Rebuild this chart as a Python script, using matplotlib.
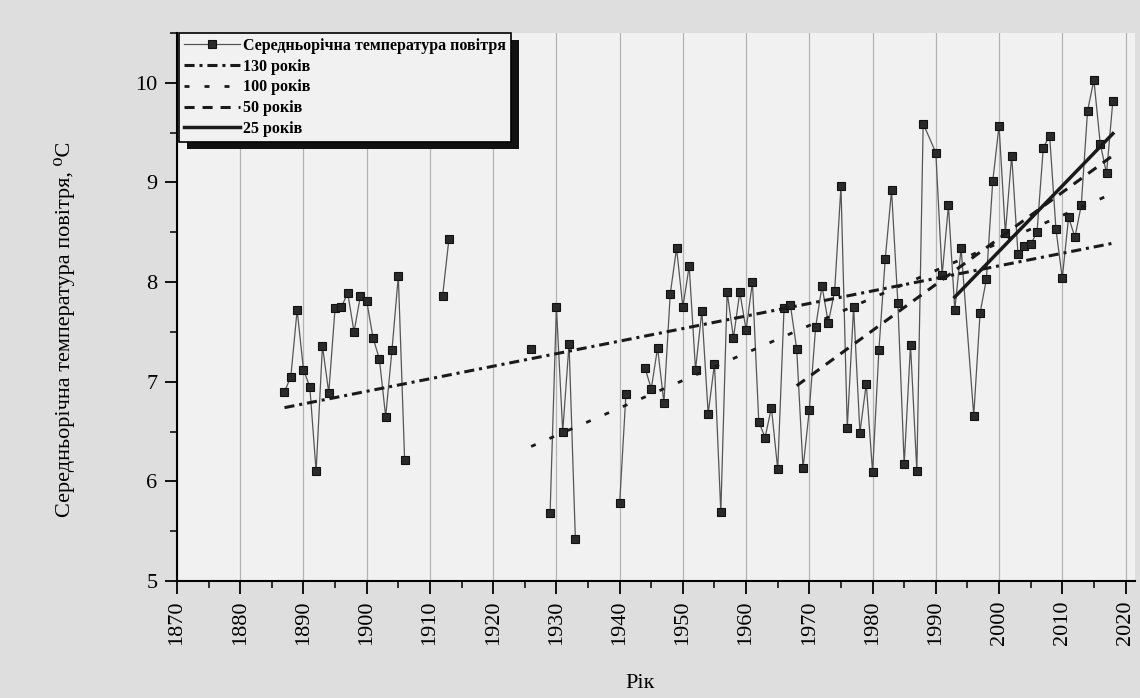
import matplotlib
matplotlib.use("Agg")
import matplotlib.pyplot as plt
from matplotlib.patches import Rectangle
from matplotlib.transforms import IdentityTransform
from matplotlib.ticker import MultipleLocator
import numpy as np

# Середньорічна температура повітря
years = (list(range(1887, 1907)) + [1912, 1913] + [1926] + list(range(1929, 1934))
         + [1940, 1941] + list(range(1944, 1989)) + list(range(1990, 1995))
         + list(range(1996, 2019)))
temps = [6.90, 7.05, 7.72, 7.12, 6.95, 6.10, 7.36, 6.89, 7.74, 7.75,
         7.89, 7.50, 7.86, 7.81, 7.44, 7.23, 6.65, 7.32, 8.06, 6.21,
         7.86, 8.43,
         7.33,
         5.68, 7.75, 6.50, 7.38, 5.42,
         5.78, 6.88,
         7.14, 6.93, 7.34, 6.79, 7.88, 8.34, 7.75, 8.16, 7.12, 7.71,
         6.68, 7.18, 5.69, 7.90, 7.44, 7.90, 7.52, 8.00, 6.60, 6.44,
         6.74, 6.12, 7.74, 7.77, 7.33, 6.13, 6.72, 7.55, 7.96, 7.59,
         7.91, 8.96, 6.54, 7.75, 6.49, 6.98, 6.09, 7.32, 8.23, 8.92,
         7.79, 6.17, 7.37, 6.10, 9.59,
         9.30, 8.07, 8.77, 7.72, 8.34,
         6.66, 7.69, 8.03, 9.01, 9.57, 8.49, 9.27, 8.28, 8.36, 8.38,
         8.50, 9.35, 9.47, 8.53, 8.04, 8.65, 8.45, 8.77, 9.72, 10.03,
         9.39, 9.09, 9.82]
# роки, після яких у ряді немає даних (лінія переривається)
breaks_after = [1906, 1913, 1926, 1933, 1941]

# лінійні тренди: початок / кінець
trend_labels = ["130 років", "100 років", "50 років", "25 років"]
trend_start = [1887, 1926, 1968, 1993]
trend_end = [2018, 2018, 2018, 2018]
trend_v0 = [6.74, 6.35, 6.96, 7.85]
trend_v1 = [8.39, 8.89, 9.27, 9.49]

plt.rcParams['font.family'] = ['Liberation Serif', 'DejaVu Serif']

fig = plt.figure(figsize=(11.4, 6.98), dpi=100, facecolor='#dedede')
ax = fig.add_axes([177/1140, 1 - 581/698, 958/1140, 548/698])
ax.set_facecolor('#f1f1f1')

# ряд з розривами
xs, ys = [], []
for yr, t in zip(years, temps):
    xs.append(yr)
    ys.append(t)
    if yr in breaks_after:
        xs.append(np.nan)
        ys.append(np.nan)

ax.plot(xs, ys, color='#555555', lw=0.9, marker='s', ms=6,
        mfc='#2a2a2a', mec='#111111', mew=0.8,
        label="Середньорічна температура повітря", zorder=3)

styles = [
    dict(dashes=(3.3, 1.6, 1, 1.6), lw=2.2),
    dict(dashes=(1.8, 5.4), lw=2.0),
    dict(dashes=(3.3, 2.6), lw=2.2),
    dict(lw=2.5),
]
for lab, x0, x1, v0, v1, st in zip(trend_labels, trend_start, trend_end, trend_v0, trend_v1, styles):
    ax.plot([x0, x1], [v0, v1], color='#1a1a1a', label=lab, zorder=4, **st)

ax.set_xlim(1870, 2021.5)
ax.set_ylim(5, 10.5)
ax.xaxis.set_minor_locator(MultipleLocator(5))
ax.yaxis.set_major_locator(MultipleLocator(1))
ax.yaxis.set_minor_locator(MultipleLocator(0.5))
ax.set_xticks(range(1870, 2021, 10))
ax.tick_params(axis='both', which='major', direction='out', length=9, width=1.3,
               labelsize=16, pad=5)
ax.tick_params(axis='both', which='minor', direction='out', length=5, width=1.1)
for lbl in ax.get_xticklabels():
    lbl.set_rotation(90)

ax.grid(True, axis='x', color='#b4b4b4', lw=0.9)
ax.set_axisbelow(True)
for side in ['top', 'right']:
    ax.spines[side].set_visible(False)
for side in ['left', 'bottom']:
    ax.spines[side].set_linewidth(1.5)

ax.set_xlabel("Рік", fontsize=16)
ax.xaxis.set_label_coords(0.483, -0.17)
ax.set_ylabel("Середньорічна температура повітря, ⁰С", fontsize=16)
ax.yaxis.set_label_coords(-0.106, 0.46)

leg = ax.legend(loc='upper left', bbox_to_anchor=(0.002, 1.0), borderaxespad=0,
                frameon=True, fancybox=False, edgecolor='black', facecolor='#f1f1f1',
                framealpha=1, prop={'family': ['Liberation Serif', 'DejaVu Serif'],
                                    'weight': 'bold', 'size': 11.5},
                handlelength=3.5, handletextpad=0.2, labelspacing=0.3,
                borderpad=0.3, numpoints=1)
leg.get_frame().set_linewidth(1.2)
leg.set_zorder(6)

# тінь легенди (як в Origin)
fig.canvas.draw()
bb = leg.get_window_extent()
shadow = Rectangle((bb.x0 + 8, bb.y0 - 7), bb.width, bb.height,
                   transform=IdentityTransform(), facecolor='#111111',
                   edgecolor='none', zorder=5.5, clip_on=False)
ax.add_patch(shadow)

fig.savefig("out.png", dpi=100, facecolor=fig.get_facecolor())
